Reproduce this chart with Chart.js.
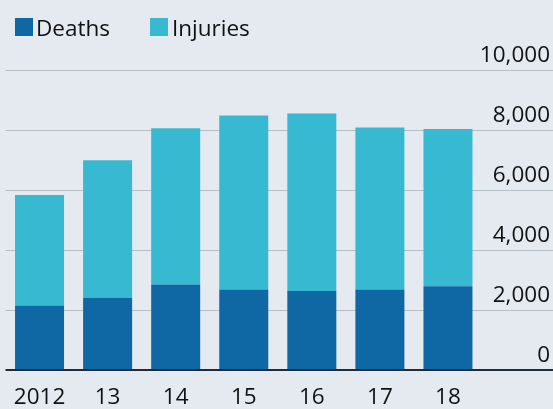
<!DOCTYPE html>
<html>
<head>
<meta charset="utf-8">
<script src="https://cdn.jsdelivr.net/npm/chart.js@4.4.1/dist/chart.umd.min.js"></script>
<style>
    html, body { margin: 0; padding: 0; background: #e4eaf0; }
    #wrap { position: relative; width: 553px; height: 409px; background: #e4eaf0; }
    #chart { position: absolute; left: 0; top: 0; }
    .legend-item { position: absolute; top: 16.2px; height: 24px; line-height: 24px;
        font-family: "Open Sans", sans-serif; font-size: 22.5px;
        color: #111; white-space: nowrap; }
    .legend-item span { position: absolute; left: 0; top: 1.8px; width: 18px; height: 18px; }
    .legend-item b { font-weight: normal; position: absolute; left: 21px; top: 0; }
</style>
</head>
<body>
<div id="wrap">
    <canvas id="chart" width="553" height="409"></canvas>
    <div class="legend-item" style="left:15px"><span style="background:#0f68a4"></span><b>Deaths</b></div>
    <div class="legend-item" style="left:150px"><span style="background:#37b9d1"></span><b style="left:22px">Injuries</b></div>
</div>
<script>
// data
const years = ['2012', '13', '14', '15', '16', '17', '18'];
const deaths = [2150, 2400, 2850, 2680, 2630, 2680, 2790];
const injuries = [3680, 4590, 5210, 5800, 5920, 5400, 5240];
const yMax = 10000;
const yStep = 2000;

const FONT = { family: '"Open Sans", sans-serif', size: 22.5 };

new Chart(document.getElementById('chart'), {
    type: 'bar',
    data: {
        labels: years,
        datasets: [
            { label: 'Deaths', data: deaths, backgroundColor: '#0f68a4', borderWidth: 0 },
            { label: 'Injuries', data: injuries, backgroundColor: '#37b9d1', borderWidth: 0 }
        ]
    },
    options: {
        responsive: false,
        animation: false,
        layout: { padding: { top: 70, left: 5.5, right: 0, bottom: 0 } },
        plugins: { legend: { display: false }, tooltip: { enabled: false } },
        datasets: { bar: { categoryPercentage: 1, barPercentage: 0.72 } },
        scales: {
            x: {
                stacked: true,
                afterFit: (scale) => {
                    scale.height = 39;
                    scale.paddingLeft = 0;
                    scale.paddingRight = 0;
                },
                grid: { display: false, drawTicks: false },
                border: { display: false },
                ticks: { color: '#111', padding: 14, font: FONT }
            },
            y: {
                stacked: true,
                position: 'right',
                min: 0,
                max: yMax,
                afterFit: (scale) => {
                    // labels sit on top of the lines, they need no room above or below
                    scale.width = 71;
                    scale.paddingTop = 0;
                    scale.paddingBottom = 0;
                },
                border: { display: false },
                grid: {
                    drawTicks: true,
                    tickLength: 71,
                    color: (ctx) => ctx.tick && ctx.tick.value === 0 ? '#1f2c38' : '#b7bfc7',
                    lineWidth: (ctx) => ctx.tick && ctx.tick.value === 0 ? 2 : 1
                },
                ticks: {
                    stepSize: yStep,
                    mirror: true,
                    padding: 68,
                    labelOffset: -14,
                    color: '#111',
                    font: FONT,
                    callback: (v) => v.toLocaleString('en-US')
                }
            }
        }
    }
});
</script>
</body>
</html>
